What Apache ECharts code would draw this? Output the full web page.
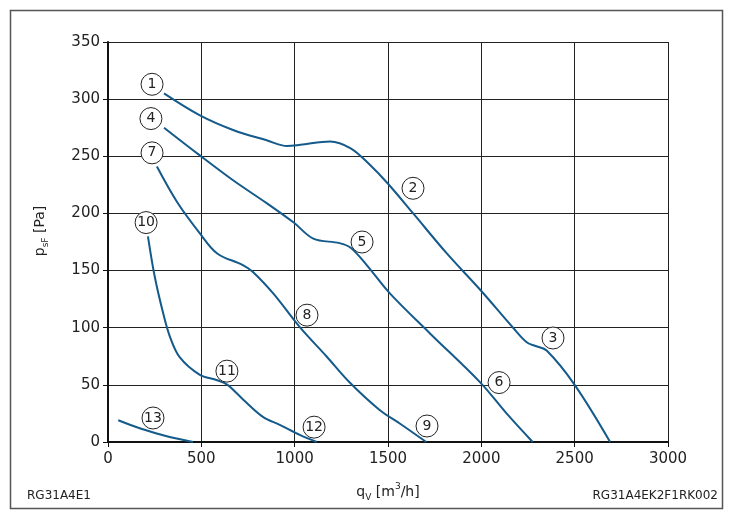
<!DOCTYPE html>
<html>
<head>
<meta charset="utf-8">
<script src="https://cdn.jsdelivr.net/npm/echarts@6/dist/echarts.min.js"></script>
<style>
  html, body { margin: 0; padding: 0; background: #fff; }
  #chart { width: 733px; height: 525px; }
</style>
</head>
<body>
<div id="chart"></div>
<script>
// curve data [qV, psF]
const curve123 = [[300,305],[490,286],[670,273],[850,264],[960,259],[1030,260],[1190,263],[1300,257],[1400,243],[1500,226],[1635,200],[1815,165],[1995,133],[2170,100],[2245,87],[2290,84],[2350,80],[2500,50],[2690,0]];
const curve456 = [[300,275],[490,251],[670,229],[850,209],[995,192],[1100,178],[1240,174],[1300,170],[1385,155],[1510,130],[1725,95],[1995,52],[2135,25],[2275,0]];
const curve789 = [[262,241],[370,210],[490,183],[585,165],[720,155],[775,149],[885,130],[1030,100],[1170,75],[1295,52],[1455,28],[1565,16],[1705,0]];
const curve101112 = [[214,180],[250,145],[295,113],[332,92],[385,74],[490,59],[585,54],[640,50],[725,37],[830,22],[920,15],[1030,6],[1118,0]];
const curve13 = [[55,19],[170,12],[315,5],[455,0]];

// circled point markers [qV, psF, number]
const markers = [
    [236,313,'1'],[1634,222,'2'],[2384,91,'3'],
    [230,283,'4'],[1361,175,'5'],[2095,52,'6'],
    [236,253,'7'],[1066,111,'8'],[1709,14,'9'],
    [204,192,'10'],[637,62,'11'],[1104,13,'12'],
    [241,21,'13']
];

const xTicks = [0, 3000, 500];
const yTicks = [0, 350, 50];

const chart = echarts.init(document.getElementById('chart'));
const font = "'DejaVu Sans', 'Liberation Sans', Arial, sans-serif";
const lineColor = '#145a8a';

function curve(data) {
    return {
        type: 'line',
        data: data,
        smooth: 0.35,
        showSymbol: false,
        lineStyle: {color: lineColor, width: 2},
        z: 3
    };
}

const option = {
    animation: false,
    grid: {left: 108, right: 65, top: 42, bottom: 83},
    xAxis: {
        type: 'value',
        min: xTicks[0], max: xTicks[1], interval: xTicks[2],
        name: '{a|q}{s|V}{a| [m}{p|3}{a|/h]}',
        nameLocation: 'middle',
        nameGap: 40,
        nameTextStyle: {
            rich: {
                a: {fontFamily: font, fontSize: 14, color: '#222', lineHeight: 20},
                s: {fontFamily: font, fontSize: 9, color: '#222', verticalAlign: 'bottom', lineHeight: 14, padding: [6, 0, 0, 0]},
                p: {fontFamily: font, fontSize: 9, color: '#222', verticalAlign: 'top', lineHeight: 14, padding: [0, 0, 6, 0]}
            }
        },
        axisLine: {show: true, lineStyle: {color: '#111', width: 2}},
        axisTick: {show: true, length: 5, lineStyle: {color: '#111'}},
        axisLabel: {color: '#222', fontFamily: font, fontSize: 15, margin: 10, formatter: v => String(v)},
        splitLine: {show: true, lineStyle: {color: '#222', width: 1}}
    },
    yAxis: {
        type: 'value',
        min: yTicks[0], max: yTicks[1], interval: yTicks[2],
        name: '{a|p}{s|sF}{a| [Pa]}',
        nameLocation: 'middle',
        nameGap: 58,
        nameRotate: 90,
        nameTextStyle: {
            padding: [0, 0, 0, 22],
            rich: {
                a: {fontFamily: font, fontSize: 14, color: '#222', lineHeight: 20},
                s: {fontFamily: font, fontSize: 9, color: '#222', verticalAlign: 'bottom', lineHeight: 14, padding: [6, 0, 0, 0]}
            }
        },
        axisLine: {show: true, lineStyle: {color: '#111', width: 2}},
        axisTick: {show: true, length: 5, lineStyle: {color: '#111'}},
        axisLabel: {color: '#222', fontFamily: font, fontSize: 15, margin: 8, formatter: v => String(v)},
        splitLine: {show: true, lineStyle: {color: '#222', width: 1}}
    },
    series: [
        curve(curve123),
        curve(curve456),
        curve(curve789),
        curve(curve101112),
        curve(curve13),
        {
            type: 'scatter',
            data: markers,
            symbol: 'circle',
            symbolSize: 22,
            clip: false,
            itemStyle: {color: '#fff', borderColor: '#222', borderWidth: 1, opacity: 1},
            label: {
                show: true,
                position: 'inside',
                formatter: p => p.value[2],
                color: '#222',
                fontFamily: font,
                fontSize: 14
            },
            z: 5
        }
    ],
    graphic: [
        {
            type: 'rect',
            shape: {x: 10.5, y: 10.5, width: 712, height: 498},
            style: {fill: 'none', stroke: '#555', lineWidth: 1.5},
            silent: true
        },
        {
            type: 'text',
            left: 27, top: 490,
            style: {text: 'RG31A4E1', font: '12px ' + font, fill: '#222'}
        },
        {
            type: 'text',
            right: 15, top: 490,
            style: {text: 'RG31A4EK2F1RK002', font: '12px ' + font, fill: '#222'}
        }
    ]
};

option && chart.setOption(option);
</script>
</body>
</html>
